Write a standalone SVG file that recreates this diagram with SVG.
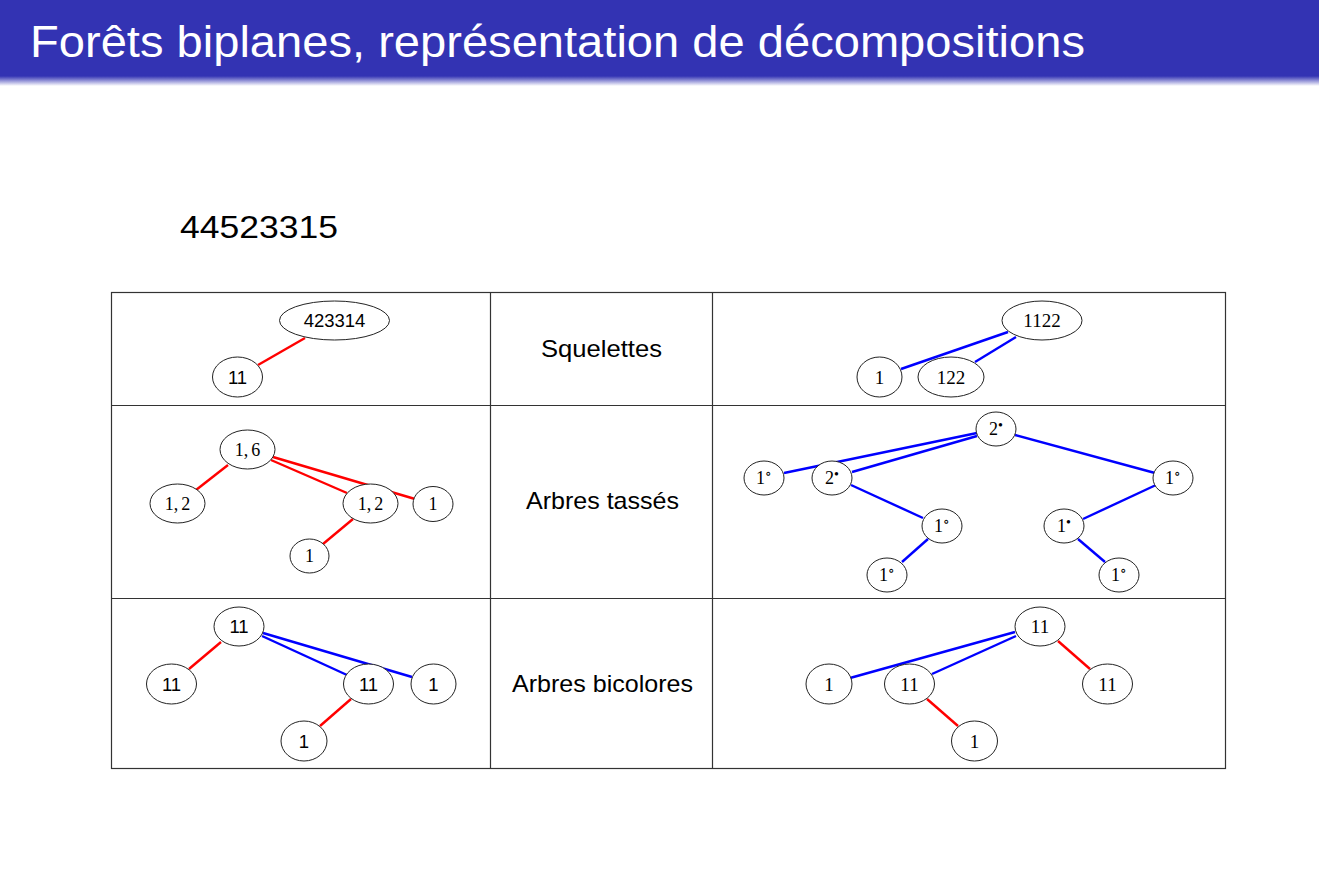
<svg xmlns="http://www.w3.org/2000/svg" width="1319" height="883" viewBox="0 0 1319 883">
<defs>
<linearGradient id="shade" x1="0" y1="0" x2="0" y2="1">
<stop offset="0" stop-color="#3333B3"/>
<stop offset="1" stop-color="#ffffff"/>
</linearGradient>
<style>
.n ellipse{fill:#fff;stroke:#222;stroke-width:1}
.s{font-family:"Liberation Sans","DejaVu Sans",sans-serif;font-size:18.5px;text-anchor:middle;fill:#000}
.r{font-family:"Liberation Serif","DejaVu Serif",serif;font-size:19px;text-anchor:middle;fill:#000}
.r2{font-family:"Liberation Serif","DejaVu Serif",serif;font-size:18px;text-anchor:middle;fill:#000}
.sup{font-size:14px}
.red{stroke:#ff0000;stroke-width:2.4;fill:none}
.blue{stroke:#0000ff;stroke-width:2.4;fill:none}
.grid{stroke:#333;stroke-width:1.2;fill:none}
.lab{font-family:"Liberation Sans","DejaVu Sans",sans-serif;font-size:24px;text-anchor:middle;fill:#000}
</style>
</defs>
<rect x="0" y="0" width="1319" height="883" fill="#fff"/>
<rect x="0" y="0" width="1319" height="76" fill="#3333B3"/>
<rect x="0" y="76" width="1319" height="10" fill="url(#shade)"/>
<text x="30" y="57" font-family="'Liberation Sans','DejaVu Sans',sans-serif" font-size="44" fill="#fff" textLength="1055" lengthAdjust="spacingAndGlyphs">Forêts biplanes, représentation de décompositions</text>
<text x="180" y="238" font-family="'Liberation Sans','DejaVu Sans',sans-serif" font-size="32" fill="#000" textLength="158" lengthAdjust="spacingAndGlyphs">44523315</text>

<g id="table">
<rect class="grid" x="111.5" y="292.5" width="1114" height="476"/>
<line class="grid" x1="490.5" y1="292.5" x2="490.5" y2="768.5"/>
<line class="grid" x1="712.5" y1="292.5" x2="712.5" y2="768.5"/>
<line class="grid" x1="111.5" y1="405.5" x2="1225.5" y2="405.5"/>
<line class="grid" x1="111.5" y1="598.5" x2="1225.5" y2="598.5"/>
<text class="lab" x="601.5" y="357" textLength="121" lengthAdjust="spacingAndGlyphs">Squelettes</text>
<text class="lab" x="602.5" y="509" textLength="153" lengthAdjust="spacingAndGlyphs">Arbres tassés</text>
<text class="lab" x="602.5" y="692" textLength="181" lengthAdjust="spacingAndGlyphs">Arbres bicolores</text>
</g>

<g id="connectors">
<line class="red" x1="258" y1="365" x2="305" y2="338"/>
<line class="blue" x1="901" y1="369" x2="1008" y2="332"/>
<line class="blue" x1="975" y1="362" x2="1016" y2="337"/>
<line class="red" x1="228" y1="465" x2="196" y2="490"/>
<line class="red" x1="271" y1="460" x2="347" y2="493"/>
<line class="red" x1="273" y1="457" x2="415" y2="499"/>
<line class="red" x1="353" y1="519" x2="323" y2="544"/>
<line class="blue" x1="784" y1="473" x2="977" y2="433"/>
<line class="blue" x1="852" y1="472" x2="977" y2="436"/>
<line class="blue" x1="1015" y1="435" x2="1155" y2="473"/>
<line class="blue" x1="851" y1="485" x2="923" y2="518"/>
<line class="blue" x1="928" y1="539" x2="902" y2="562"/>
<line class="blue" x1="1156" y1="485" x2="1083" y2="519"/>
<line class="blue" x1="1078" y1="539" x2="1105" y2="562"/>
<line class="red" x1="221" y1="642" x2="189" y2="669"/>
<line class="blue" x1="262" y1="636" x2="347" y2="675"/>
<line class="blue" x1="263" y1="633" x2="412" y2="677"/>
<line class="red" x1="351" y1="699" x2="320" y2="726"/>
<line class="blue" x1="1015" y1="632" x2="850" y2="678"/>
<line class="blue" x1="1016" y1="636" x2="932" y2="674"/>
<line class="red" x1="1058" y1="641" x2="1090" y2="669"/>
<line class="red" x1="927" y1="699" x2="958" y2="726"/>
</g>

<g id="n1a" class="n"><ellipse cx="334.5" cy="320.5" rx="55" ry="19.5"/><text class="s" x="334.5" y="327">423314</text></g>
<g id="n1b" class="n"><ellipse cx="237.5" cy="377" rx="25" ry="20"/><text class="s" x="237.5" y="383.5">11</text></g>
<g id="n1c" class="n"><ellipse cx="1042" cy="320.5" rx="40" ry="19.5"/><text class="r" x="1042" y="327">1122</text></g>
<g id="n1d" class="n"><ellipse cx="879.5" cy="377" rx="22.5" ry="20"/><text class="r" x="879.5" y="383.5">1</text></g>
<g id="n1e" class="n"><ellipse cx="951" cy="377" rx="33" ry="20"/><text class="r" x="951" y="383.5">122</text></g>

<g id="n2a" class="n"><ellipse cx="247.5" cy="449.5" rx="27.5" ry="19.5"/><text class="r2" x="247.5" y="455.5">1,<tspan dx="3">6</tspan></text></g>
<g id="n2b" class="n"><ellipse cx="177.5" cy="503.5" rx="27.5" ry="19.5"/><text class="r2" x="177.5" y="509.5">1,<tspan dx="3">2</tspan></text></g>
<g id="n2c" class="n"><ellipse cx="370.5" cy="503.5" rx="27.5" ry="19.5"/><text class="r2" x="370.5" y="509.5">1,<tspan dx="3">2</tspan></text></g>
<g id="n2d" class="n"><ellipse cx="433" cy="504" rx="20" ry="17.5"/><text class="r2" x="433" y="510">1</text></g>
<g id="n2e" class="n"><ellipse cx="309.5" cy="556" rx="19.5" ry="17"/><text class="r2" x="309.5" y="562">1</text></g>

<g id="n2f" class="n"><ellipse cx="996" cy="429" rx="20" ry="17"/><text class="r2" x="996" y="435">2<tspan class="sup" dy="-5">•</tspan></text></g>
<g id="n2g" class="n"><ellipse cx="764" cy="478" rx="20" ry="17"/><text class="r2" x="764" y="484">1<tspan class="sup" dy="-6">∘</tspan></text></g>
<g id="n2h" class="n"><ellipse cx="832" cy="478" rx="20" ry="17"/><text class="r2" x="832" y="484">2<tspan class="sup" dy="-5">•</tspan></text></g>
<g id="n2i" class="n"><ellipse cx="1173" cy="478" rx="20" ry="17"/><text class="r2" x="1173" y="484">1<tspan class="sup" dy="-6">∘</tspan></text></g>
<g id="n2j" class="n"><ellipse cx="942" cy="526" rx="20" ry="17"/><text class="r2" x="942" y="532">1<tspan class="sup" dy="-6">∘</tspan></text></g>
<g id="n2k" class="n"><ellipse cx="1064" cy="526" rx="20" ry="17"/><text class="r2" x="1064" y="532">1<tspan class="sup" dy="-5">•</tspan></text></g>
<g id="n2l" class="n"><ellipse cx="887" cy="575" rx="20" ry="17"/><text class="r2" x="887" y="581">1<tspan class="sup" dy="-6">∘</tspan></text></g>
<g id="n2m" class="n"><ellipse cx="1119" cy="575" rx="20" ry="17"/><text class="r2" x="1119" y="581">1<tspan class="sup" dy="-6">∘</tspan></text></g>

<g id="n3a" class="n"><ellipse cx="239" cy="626.5" rx="25" ry="19.5"/><text class="s" x="239" y="633">11</text></g>
<g id="n3b" class="n"><ellipse cx="171.5" cy="684" rx="25" ry="20"/><text class="s" x="171.5" y="690.5">11</text></g>
<g id="n3c" class="n"><ellipse cx="368.5" cy="684" rx="25" ry="20"/><text class="s" x="368.5" y="690.5">11</text></g>
<g id="n3d" class="n"><ellipse cx="433.5" cy="684" rx="22.5" ry="20"/><text class="s" x="433.5" y="690.5">1</text></g>
<g id="n3e" class="n"><ellipse cx="304" cy="741" rx="23" ry="20"/><text class="s" x="304" y="747.5">1</text></g>

<g id="n3f" class="n"><ellipse cx="1040" cy="626.5" rx="25" ry="19.5"/><text class="r" x="1040" y="633">11</text></g>
<g id="n3g" class="n"><ellipse cx="829" cy="684" rx="23" ry="20"/><text class="r" x="829" y="690.5">1</text></g>
<g id="n3h" class="n"><ellipse cx="909.5" cy="684" rx="25" ry="20"/><text class="r" x="909.5" y="690.5">11</text></g>
<g id="n3i" class="n"><ellipse cx="1107.5" cy="684" rx="25" ry="20"/><text class="r" x="1107.5" y="690.5">11</text></g>
<g id="n3j" class="n"><ellipse cx="974.5" cy="741" rx="23" ry="20"/><text class="r" x="974.5" y="747.5">1</text></g>
</svg>
